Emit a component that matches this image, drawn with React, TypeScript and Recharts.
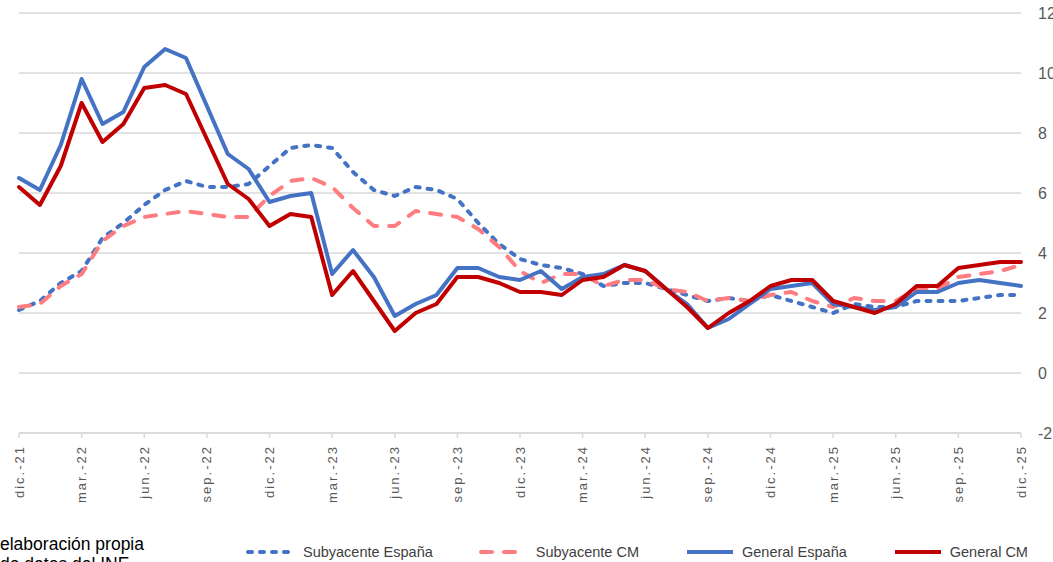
import { CartesianGrid, Legend, Line, LineChart, XAxis, YAxis } from "recharts";

// monthly rate (%), dic.-21 .. dic.-25
const months = [
  "dic.-21",
  "ene.-22", "feb.-22", "mar.-22", "abr.-22", "may.-22", "jun.-22", "jul.-22", "ago.-22", "sep.-22", "oct.-22", "nov.-22", "dic.-22",
  "ene.-23", "feb.-23", "mar.-23", "abr.-23", "may.-23", "jun.-23", "jul.-23", "ago.-23", "sep.-23", "oct.-23", "nov.-23", "dic.-23",
  "ene.-24", "feb.-24", "mar.-24", "abr.-24", "may.-24", "jun.-24", "jul.-24", "ago.-24", "sep.-24", "oct.-24", "nov.-24", "dic.-24",
  "ene.-25", "feb.-25", "mar.-25", "abr.-25", "may.-25", "jun.-25", "jul.-25", "ago.-25", "sep.-25", "oct.-25", "nov.-25", "dic.-25",
];

const subyacenteEspana = [
  2.1, 2.4, 3.0, 3.4, 4.5, 5.0, 5.6, 6.1, 6.4, 6.2,
  6.2, 6.3, 6.9, 7.5, 7.6, 7.5, 6.7, 6.1, 5.9, 6.2,
  6.1, 5.8, 5.0, 4.3, 3.8, 3.6, 3.5, 3.3, 2.9, 3.0,
  3.0, 2.8, 2.6, 2.4, 2.5, 2.4, 2.6, 2.4, 2.2, 2.0,
  2.3, 2.2, 2.2, 2.4, 2.4, 2.4, 2.5, 2.6, 2.6,
];

const subyacenteCM = [
  2.2, 2.3, 2.9, 3.3, 4.4, 4.9, 5.2, 5.3, 5.4, 5.3,
  5.2, 5.2, 5.9, 6.4, 6.5, 6.2, 5.5, 4.9, 4.9, 5.4,
  5.3, 5.2, 4.8, 4.2, 3.4, 3.0, 3.3, 3.3, 2.9, 3.1,
  3.1, 2.8, 2.7, 2.4, 2.5, 2.4, 2.6, 2.7, 2.4, 2.2,
  2.5, 2.4, 2.4, 2.8, 2.8, 3.2, 3.3, 3.4, 3.6,
];

const generalEspana = [
  6.5, 6.1, 7.6, 9.8, 8.3, 8.7, 10.2, 10.8, 10.5, 8.9,
  7.3, 6.8, 5.7, 5.9, 6.0, 3.3, 4.1, 3.2, 1.9, 2.3,
  2.6, 3.5, 3.5, 3.2, 3.1, 3.4, 2.8, 3.2, 3.3, 3.6,
  3.4, 2.8, 2.3, 1.5, 1.8, 2.3, 2.8, 2.9, 3.0, 2.3,
  2.2, 2.1, 2.2, 2.7, 2.7, 3.0, 3.1, 3.0, 2.9,
];

const generalCM = [
  6.2, 5.6, 6.9, 9.0, 7.7, 8.3, 9.5, 9.6, 9.3, 7.8,
  6.3, 5.8, 4.9, 5.3, 5.2, 2.6, 3.4, 2.4, 1.4, 2.0,
  2.3, 3.2, 3.2, 3.0, 2.7, 2.7, 2.6, 3.1, 3.2, 3.6,
  3.4, 2.8, 2.2, 1.5, 2.0, 2.4, 2.9, 3.1, 3.1, 2.4,
  2.2, 2.0, 2.3, 2.9, 2.9, 3.5, 3.6, 3.7, 3.7,
];

const yTicks = [-2, 0, 2, 4, 6, 8, 10, 12];

const series = [
  { key: "subEsp", name: "Subyacente España", color: "#4472C4", dash: "4 8" },
  { key: "subCM", name: "Subyacente CM", color: "#FF7C80", dash: "11 12" },
  { key: "genEsp", name: "General España", color: "#4472C4", dash: undefined },
  { key: "genCM", name: "General CM", color: "#C00000", dash: undefined },
];

const data = months.map((m, i) => ({
  month: m,
  subEsp: subyacenteEspana[i],
  subCM: subyacenteCM[i],
  genEsp: generalEspana[i],
  genCM: generalCM[i],
}));

const GREY = "#595959";
const FONT = "'Liberation Sans', Arial, sans-serif";

function MonthTick(props: any) {
  const { x, y, payload } = props;
  return (
    <text
      x={x}
      y={y}
      transform={`rotate(-90, ${x}, ${y})`}
      textAnchor="end"
      dy="0.35em"
      fill={GREY}
      fontSize={13}
      letterSpacing={2}
      fontFamily={FONT}
    >
      {payload.value}
    </text>
  );
}

function LegendRow() {
  return (
    <div
      style={{
        display: "flex",
        alignItems: "center",
        height: 20,
        paddingLeft: 245,
        gap: 45,
        fontFamily: FONT,
        fontSize: 14.5,
        color: "#404040",
      }}
    >
      {series.map((s) => (
        <div key={s.key} style={{ display: "flex", alignItems: "center", gap: 6 }}>
          <svg width={52} height={10}>
            <line
              x1={3}
              y1={5}
              x2={49}
              y2={5}
              stroke={s.color}
              strokeWidth={4}
              strokeDasharray={s.dash}
              strokeLinecap={s.dash ? "round" : "butt"}
            />
          </svg>
          <span style={{ whiteSpace: "nowrap" }}>{s.name}</span>
        </div>
      ))}
    </div>
  );
}

export default function App() {
  return (
    <div style={{ position: "absolute", left: 0, top: 0, width: 1053, height: 562, overflow: "hidden", background: "#fff" }}>
      <LineChart
        width={1053}
        height={562}
        data={data}
        margin={{ top: 13, right: 0, bottom: 0, left: 19 }}
      >
        <CartesianGrid vertical={false} stroke="#d9d9d9" strokeWidth={1.5} />
        <XAxis
          dataKey="month"
          interval={2}
          height={109}
          tick={<MonthTick />}
          tickSize={5}
          tickMargin={7}
          axisLine={{ stroke: "#d9d9d9", strokeWidth: 1.5 }}
          tickLine={{ stroke: "#d9d9d9", strokeWidth: 1.5 }}
        />
        <YAxis
          orientation="right"
          width={32}
          domain={[-2, 12]}
          ticks={yTicks}
          interval={0}
          axisLine={false}
          tickLine={false}
          tickMargin={11}
          tick={{ fill: GREY, fontSize: 16, fontFamily: FONT }}
        />
        {series.map((s) => (
          <Line
            key={s.key}
            type="linear"
            dataKey={s.key}
            name={s.name}
            stroke={s.color}
            strokeWidth={4}
            strokeDasharray={s.dash}
            strokeLinecap="round"
            strokeLinejoin="round"
            dot={false}
            activeDot={false}
            isAnimationActive={false}
          />
        ))}
        <Legend
          verticalAlign="bottom"
          content={() => <LegendRow />}
          wrapperStyle={{ left: 0, width: 1053 }}
        />
      </LineChart>
      <div
        style={{
          position: "absolute",
          left: 0,
          top: 534,
          width: 220,
          fontFamily: FONT,
          fontSize: 17.5,
          lineHeight: "20px",
          color: "#000",
        }}
      >
        elaboración propia
        <br />
        de datos del INE
      </div>
    </div>
  );
}
